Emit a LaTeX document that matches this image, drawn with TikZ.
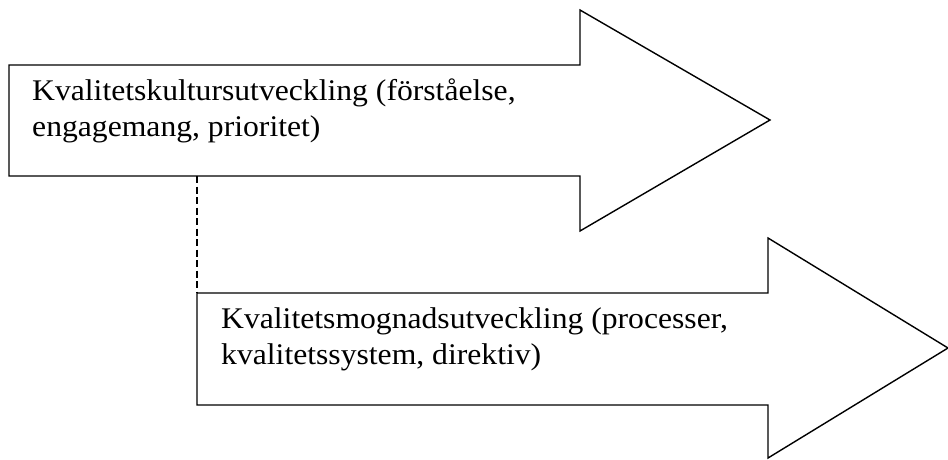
\documentclass[tikz,border=0pt]{standalone}
\usepackage{fontspec}
\setmainfont{Liberation Serif}
\begin{document}
\begin{tikzpicture}[x=1pt,y=1pt,
  arrowshape/.style={draw=black,line width=1.4pt,line join=miter,fill=white},
  label/.style={anchor=base west,inner sep=0pt,align=left,xscale=1.055,transform shape,
    font=\fontsize{30}{36}\selectfont},
  link/.style={draw=black,line width=1.3pt,dash pattern=on 7pt off 3.5pt}]
\useasboundingbox (0,0) rectangle (948,459);
% first arrow
\coordinate (a1bl) at (9,283);
\draw[arrowshape] (9,394) -- (580,394) -- (580,449) -- (770,339) -- (580,228) -- (580,283) -- (a1bl) -- cycle;
% second arrow
\coordinate (a2tl) at (197,166);
\draw[arrowshape] (a2tl) -- (768,166) -- (768,221) -- (948,111) -- (768,1) -- (768,54) -- (197,54) -- cycle;
% dashed connector
\coordinate (dtop) at (197,283);
\draw[link] (dtop) -- (a2tl);
% texts (base = baseline of last line)
\node[label] (t1) at (32,323) {Kvalitetskultursutveckling (förståelse,\\engagemang, prioritet)};
\node[label] (t2) at (221,95) {Kvalitetsmognadsutveckling (processer,\\kvalitetssystem, direktiv)};
\end{tikzpicture}
\end{document}
